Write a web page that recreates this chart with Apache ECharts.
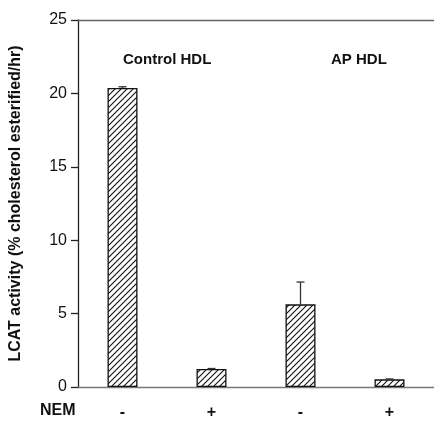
<!DOCTYPE html>
<html>
<head>
<meta charset="utf-8">
<script src="https://cdn.jsdelivr.net/npm/echarts@6/dist/echarts.min.js"></script>
<style>
  html, body { margin: 0; padding: 0; background: #fff; }
  #chart { width: 434px; height: 423px; }
</style>
</head>
<body>
<div id="chart"></div>
<script>
// data
var nemLabels = ['-', '+', '-', '+'];
var activity = [20.37, 1.23, 5.63, 0.52];
var errorTop = [20.45, 1.26, 7.15, 0.55];
var yTicks = [0, 5, 10, 15, 20, 25];

// hatched fill, "/" lines
var tile = document.createElement('canvas');
tile.width = 6;
tile.height = 6;
var ctx = tile.getContext('2d');
ctx.fillStyle = '#fff';
ctx.fillRect(0, 0, 6, 6);
ctx.strokeStyle = '#111';
ctx.lineWidth = 1.1;
ctx.beginPath();
ctx.moveTo(-1, 7); ctx.lineTo(7, -1);
ctx.moveTo(-4, 4); ctx.lineTo(4, -4);
ctx.moveTo(2, 10); ctx.lineTo(10, 2);
ctx.stroke();

var chart = echarts.init(document.getElementById('chart'));

var option = {
    animation: false,
    grid: { left: 78, top: 20, bottom: 36, right: -9 },
    xAxis: [{
        type: 'category',
        data: nemLabels,
        axisLine: { lineStyle: { color: '#777', width: 1.3 } },
        axisTick: { show: false },
        axisLabel: {
            margin: 18,
            fontFamily: 'Liberation Sans',
            fontWeight: 'bold',
            fontSize: 16,
            color: '#111'
        }
    }, {
        type: 'category',
        position: 'top',
        data: nemLabels,
        axisLine: { lineStyle: { color: '#666', width: 1.3 } },
        axisTick: { show: false },
        axisLabel: { show: false }
    }],
    yAxis: {
        type: 'value',
        min: yTicks[0],
        max: yTicks[yTicks.length - 1],
        interval: 5,
        name: 'LCAT activity (% cholesterol esterified/hr)',
        nameLocation: 'middle',
        nameRotate: 90,
        nameGap: 54,
        nameTextStyle: {
            fontFamily: 'Liberation Sans',
            fontWeight: 'bold',
            fontSize: 16,
            color: '#111'
        },
        axisLine: { show: true, lineStyle: { color: '#222', width: 1.3 } },
        axisTick: { show: true, inside: false, length: 7, lineStyle: { color: '#222', width: 1.3 } },
        splitLine: { show: false },
        axisLabel: {
            margin: 11,
            fontFamily: 'Liberation Sans',
            fontSize: 16,
            color: '#111'
        }
    },
    graphic: [
        { type: 'text', left: 40, top: 403, style: { text: 'NEM', font: 'bold 16px "Liberation Sans"', fill: '#111' } },
        { type: 'text', left: 123, top: 52, style: { text: 'Control HDL', font: 'bold 15px "Liberation Sans"', fill: '#111' } },
        { type: 'text', left: 331, top: 52, style: { text: 'AP HDL', font: 'bold 15px "Liberation Sans"', fill: '#111' } }
    ],
    series: [{
        type: 'bar',
        data: activity,
        barWidth: 30,
        itemStyle: {
            color: { image: tile, repeat: 'repeat' },
            borderColor: '#111',
            borderWidth: 1.3
        }
    }, {
        type: 'custom',
        data: activity.map(function (v, i) { return [i, v, errorTop[i]]; }),
        renderItem: function (params, api) {
            var base = api.coord([api.value(0), api.value(1)]);
            var top = api.coord([api.value(0), api.value(2)]);
            var style = { stroke: '#333', lineWidth: 1.3 };
            return {
                type: 'group',
                children: [
                    { type: 'line', shape: { x1: base[0], y1: base[1], x2: top[0], y2: top[1] }, style: style },
                    { type: 'line', shape: { x1: top[0] - 4, y1: top[1], x2: top[0] + 4, y2: top[1] }, style: style }
                ]
            };
        },
        z: 3
    }]
};

chart.setOption(option);
</script>
</body>
</html>
